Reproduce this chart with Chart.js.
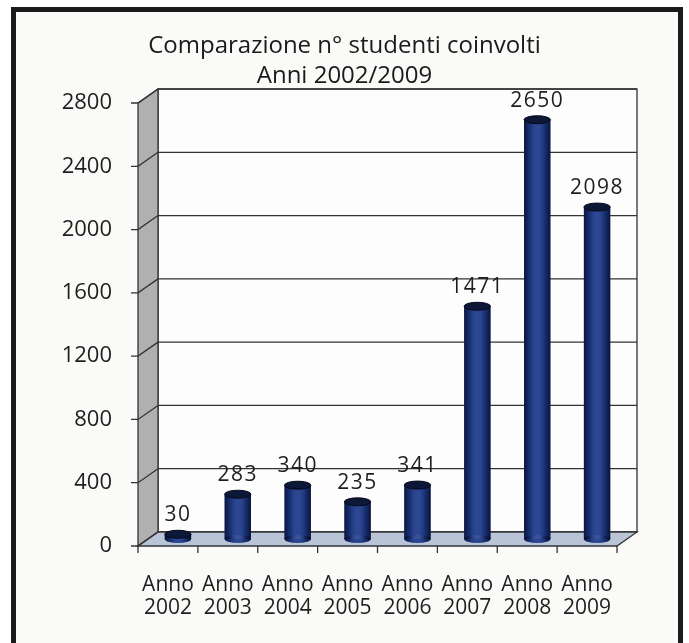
<!DOCTYPE html>
<html>
<head>
<meta charset="utf-8">
<script src="https://cdn.jsdelivr.net/npm/chart.js@4"></script>
<style>
  html, body { margin: 0; padding: 0; background: #fff; }
  #frame { position: absolute; left: 11px; top: 7px; width: 662px; height: 660px; border: 5px solid #1b1b1b; background: #fafaf8; }
  #wrap { position: absolute; left: 0; top: 0; width: 689px; height: 643px; }
</style>
</head>
<body>
<div id="frame"></div>
<div id="wrap"><canvas id="studentChart" width="689" height="643"></canvas></div>
<script>
// dati
const years = ['2002', '2003', '2004', '2005', '2006', '2007', '2008', '2009'];
const students = [30, 283, 340, 235, 341, 1471, 2650, 2098];
const yMax = 2800;
const yStep = 400;
const titleLines = ['Comparazione n° studenti coinvolti', 'Anni 2002/2009'];

const FONT = "'Open Sans', 'DejaVu Sans', sans-serif";
const BAR_COLOR = '#1f3c8c';
const DEPTH_X = 20, DEPTH_Y = 14;   // profondita' pareti 3D

function ellipse(ctx, cx, cy, rx, ry) {
    ctx.beginPath();
    ctx.ellipse(cx, cy, rx, ry, 0, 0, Math.PI * 2);
}

/* titolo centrato sulla pagina */
const pageTitle = {
    id: 'pageTitle',
    afterDraw(chart) {
        const { ctx, width } = chart;
        ctx.save();
        ctx.fillStyle = '#1a1a1a';
        ctx.font = '24px ' + FONT;
        ctx.textAlign = 'center';
        ctx.textBaseline = 'middle';
        titleLines.forEach((line, i) => ctx.fillText(line, width / 2, 46 + i * 30));
        ctx.restore();
    }
};

/* pareti 3D + barre cilindriche */
const depth3d = {
    id: 'depth3d',
    beforeDatasetsDraw(chart) {
        const { ctx, chartArea: a, scales: { x, y } } = chart;
        ctx.save();
        ctx.strokeStyle = '#333';
        ctx.lineWidth = 1.3;

        // parete di fondo
        ctx.fillStyle = '#fdfdfd';
        ctx.fillRect(a.left + DEPTH_X, a.top - DEPTH_Y, a.right - a.left, a.bottom - a.top);
        ctx.strokeRect(a.left + DEPTH_X, a.top - DEPTH_Y, a.right - a.left, a.bottom - a.top);

        // griglia sul fondo
        y.ticks.forEach(t => {
            const py = y.getPixelForValue(t.value);
            ctx.beginPath();
            ctx.moveTo(a.left + DEPTH_X, py - DEPTH_Y);
            ctx.lineTo(a.right + DEPTH_X, py - DEPTH_Y);
            ctx.stroke();
        });

        // parete laterale
        ctx.fillStyle = '#b0b0b0';
        ctx.beginPath();
        ctx.moveTo(a.left, a.top);
        ctx.lineTo(a.left + DEPTH_X, a.top - DEPTH_Y);
        ctx.lineTo(a.left + DEPTH_X, a.bottom - DEPTH_Y);
        ctx.lineTo(a.left, a.bottom);
        ctx.closePath();
        ctx.fill();
        ctx.stroke();

        // pavimento
        ctx.fillStyle = '#b9c4d6';
        ctx.beginPath();
        ctx.moveTo(a.left, a.bottom);
        ctx.lineTo(a.right, a.bottom);
        ctx.lineTo(a.right + DEPTH_X, a.bottom - DEPTH_Y);
        ctx.lineTo(a.left + DEPTH_X, a.bottom - DEPTH_Y);
        ctx.closePath();
        ctx.fill();
        ctx.stroke();

        // tacche y con diagonale verso il fondo
        y.ticks.forEach(t => {
            const py = y.getPixelForValue(t.value);
            ctx.beginPath();
            ctx.moveTo(a.left - 7, py);
            ctx.lineTo(a.left, py);
            ctx.lineTo(a.left + DEPTH_X, py - DEPTH_Y);
            ctx.stroke();
        });

        // tacche x ai confini delle categorie
        for (let i = 0; i <= years.length; i++) {
            const px = x.getPixelForValue(i - 0.5);
            ctx.beginPath();
            ctx.moveTo(px, a.bottom);
            ctx.lineTo(px, a.bottom + 7);
            ctx.stroke();
        }
        ctx.restore();

        // barre a meta' profondita'
        ctx.save();
        ctx.translate(DEPTH_X / 2, -DEPTH_Y / 2);
    },
    afterDatasetsDraw(chart) {
        const { ctx } = chart;
        const meta = chart.getDatasetMeta(0);
        meta.data.forEach((bar, i) => {
            const { x: bx, y: by, base, width: w } = bar.getProps(['x', 'y', 'base', 'width'], true);
            const rx = w / 2, ry = 4;

            // fondo arrotondato
            ctx.fillStyle = BAR_COLOR;
            ellipse(ctx, bx, base, rx, ry);
            ctx.fill();

            // ombreggiatura cilindro
            const g = ctx.createLinearGradient(bx - rx, 0, bx + rx, 0);
            g.addColorStop(0, 'rgba(5,10,35,0.75)');
            g.addColorStop(0.25, 'rgba(5,10,35,0.15)');
            g.addColorStop(0.5, 'rgba(255,255,255,0.06)');
            g.addColorStop(0.75, 'rgba(5,10,35,0.15)');
            g.addColorStop(1, 'rgba(5,10,35,0.8)');
            ctx.fillStyle = g;
            ctx.fillRect(bx - rx, by, w, base - by);
            ellipse(ctx, bx, base, rx, ry);
            ctx.fill();

            // tappo superiore
            ellipse(ctx, bx, by, rx, ry);
            ctx.fillStyle = '#0d1838';
            ctx.fill();
            ctx.strokeStyle = '#050a1a';
            ctx.lineWidth = 1;
            ctx.stroke();

            // etichetta valore
            ctx.fillStyle = '#1e1e1e';
            ctx.font = '21px ' + FONT;
            ctx.textAlign = 'center';
            ctx.textBaseline = 'middle';
            ctx.letterSpacing = '1.5px';
            ctx.fillText(String(students[i]), bx, by - 19);
        });
        ctx.restore();
    }
};

new Chart(document.getElementById('studentChart'), {
    type: 'bar',
    data: {
        labels: years.map(yr => ['Anno', yr]),
        datasets: [{
            data: students,
            backgroundColor: BAR_COLOR,
            borderWidth: 0,
            barPercentage: 0.44,
            categoryPercentage: 1
        }]
    },
    options: {
        responsive: false,
        animation: false,
        layout: { padding: { left: 0, right: 72, top: 103, bottom: 0 } },
        plugins: {
            legend: { display: false },
            tooltip: { enabled: false },
            title: { display: false }
        },
        scales: {
            x: {
                grid: { display: false },
                border: { display: false },
                ticks: {
                    color: '#1e1e1e',
                    font: { family: FONT, size: 21, lineHeight: 1.1 },
                    padding: 19,
                    maxRotation: 0,
                    autoSkip: false
                },
                afterFit(scale) { scale.height = 97; }
            },
            y: {
                min: 0,
                max: yMax,
                grid: { display: false },
                border: { display: false },
                ticks: {
                    stepSize: yStep,
                    color: '#1e1e1e',
                    font: { family: FONT, size: 22 },
                    padding: 18,
                    callback: v => String(v)
                },
                afterFit(scale) { scale.width = 138; }
            }
        }
    },
    plugins: [depth3d, pageTitle]
});
</script>
</body>
</html>
